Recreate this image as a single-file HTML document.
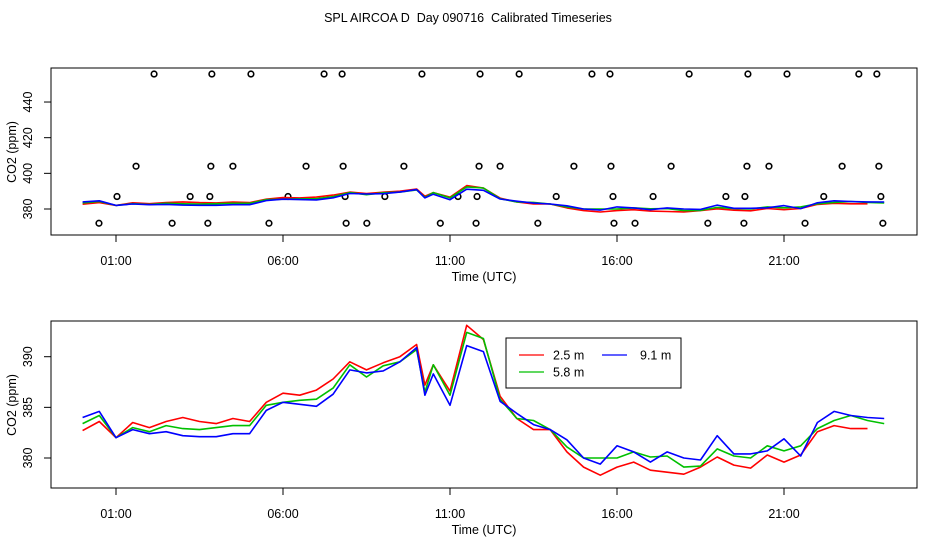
<!DOCTYPE html>
<html><head><meta charset="utf-8"><style>
html,body{margin:0;padding:0;background:#fff;}
svg{display:block;font-family:"Liberation Sans",sans-serif;}
</style></head><body>
<svg id="chart" width="936" height="540" viewBox="0 0 936 540" xmlns="http://www.w3.org/2000/svg">
<text x="468" y="22" font-size="12.5" text-anchor="middle" style="white-space:pre">SPL AIRCOA D  Day 090716  Calibrated Timeseries</text>
</svg>
<script>
const hours = [0,0.5,1,1.5,2,2.5,3,3.5,4,4.5,5,5.5,6,6.5,7,7.5,8,8.5,9,9.5,10,10.25,10.5,11,11.5,12,12.5,13,13.5,14,14.5,15,15.5,16,16.5,17,17.5,18,18.5,19,19.5,20,20.5,21,21.5,22,22.5,23,23.5,24];
const red = [382.7,383.6,382.0,383.5,383.0,383.6,384.0,383.6,383.4,383.9,383.6,385.5,386.4,386.2,386.7,387.8,389.5,388.7,389.4,390.0,391.2,387.2,389.2,386.6,393.1,391.7,386.1,383.9,382.8,382.8,380.6,379.1,378.3,379.1,379.6,378.8,378.6,378.4,379.1,380.1,379.3,379.0,380.3,379.6,380.3,382.6,383.2,382.9,382.9,null];
const green = [383.4,384.2,382.0,383.0,382.6,383.2,382.9,382.8,383.0,383.2,383.2,385.2,385.5,385.7,385.8,386.9,389.2,388.0,389.1,389.5,390.7,386.5,389.2,386.2,392.4,391.8,385.8,383.9,383.7,382.8,381.1,380.0,380.0,380.0,380.6,380.1,380.2,379.1,379.2,380.9,380.2,380.0,381.2,380.7,381.2,382.9,383.7,384.2,383.7,383.4];
const blue = [384.0,384.6,382.0,382.8,382.4,382.6,382.2,382.1,382.1,382.4,382.4,384.7,385.5,385.3,385.1,386.3,388.7,388.4,388.6,389.5,390.9,386.2,388.3,385.2,391.1,390.5,385.6,384.4,383.3,382.8,381.8,380.0,379.4,381.2,380.6,379.6,380.6,380.0,379.8,382.2,380.4,380.4,380.7,381.9,380.2,383.5,384.6,384.2,384.0,383.9];
const outlierHours = [2.14,3.87,5.04,7.23,7.77,10.16,11.90,13.07,15.25,15.79,18.16,19.92,21.09,23.24,23.78,
 1.60,3.84,4.50,6.69,7.80,9.62,11.87,12.50,14.71,15.82,17.62,19.89,20.55,22.74,23.84,
 1.03,3.22,3.81,6.15,7.86,9.05,11.24,11.81,14.18,15.88,17.08,19.26,19.83,22.19,23.90,
 0.49,2.68,3.75,5.58,7.89,8.51,10.71,11.78,13.63,15.91,16.54,18.72,19.80,21.63,23.96];
const outlierValues = [455.7,455.7,455.7,455.7,455.7,455.7,455.7,455.7,455.7,455.7,455.7,455.7,455.7,455.7,455.7,
 404,404,404,404,404,404,404,404,404,404,404,404,404,404,404,
 387,387,387,387,387,387,387,387,387,387,387,387,387,387,387,
 372,372,372,372,372,372,372,372,372,372,372,372,372,372,372];
const xTickHours = [1,6,11,16,21];
const xTickLabels = ["01:00","06:00","11:00","16:00","21:00"];
const topTicks = [380,400,420,440];
const botTicks = [380,385,390];
const seriesNames = ["2.5 m","5.8 m","9.1 m"];

const svg = document.getElementById('chart');
const NS = 'http://www.w3.org/2000/svg';
function mk(tag, attrs, parent){const e=document.createElementNS(NS,tag);for(const k in attrs)e.setAttribute(k,attrs[k]);(parent||svg).appendChild(e);return e;}
const X0=51, X1=917;
function xs(h){return 82.6 + h*33.4;}
function yTop(v){return 209 - (v-380)*1.783;}
function yBot(v){return 458 - (v-380)*10.13;}

function panel(name, top, bottom, yf, ticks, midY){
  const g = mk('g',{});
  
  
  const box = mk('rect',{x:X0,y:top,width:X1-X0,height:bottom-top,fill:'none',stroke:'#000','stroke-width':1},g);
  
  
  xTickHours.forEach((h,i)=>{
    const x=xs(h);
    const t = mk('line',{x1:x,y1:bottom,x2:x,y2:bottom+7,stroke:'#000'},g);
    
    
    const l = mk('text',{x:x,y:bottom+30,'font-size':12.5,'text-anchor':'middle'},g);
    l.textContent = xTickLabels[i];
    
    
  });
  ticks.forEach(v=>{
    const y=yf(v);
    const t = mk('line',{x1:X0-7,y1:y,x2:X0,y2:y,stroke:'#000'},g);
    
    
    const l = mk('text',{x:0,y:0,'font-size':12.5,'text-anchor':'middle',transform:`translate(32,${y}) rotate(-90)`},g);
    l.textContent = v;
    
    
  });
  const xt = mk('text',{x:484,y:bottom+46,'font-size':12.5,'text-anchor':'middle'},g);
  xt.textContent='Time (UTC)';
  
  
  const yt = mk('text',{x:0,y:0,'font-size':12.5,'text-anchor':'middle',transform:`translate(16,${midY}) rotate(-90)`},g);
  yt.textContent='CO2 (ppm)';
  
  
  return g;
}
function line(arr, color, yf, parent, name){
  let d='';
  arr.forEach((v,i)=>{ if(v==null) return; d += (d?'L':'M') + xs(hours[i]).toFixed(1)+','+yf(v).toFixed(1); });
  const p = mk('path',{d:d,fill:'none',stroke:color,'stroke-width':1.6,'stroke-linejoin':'round'},parent);
  
  
}

const gTop = panel('top-panel',68,235,yTop,topTicks,152);
outlierHours.forEach((h,i)=>{
  const c = mk('circle',{cx:xs(h),cy:yTop(outlierValues[i]),r:2.8,fill:'none',stroke:'#000','stroke-width':1.6},gTop);
  
  
});
line(red,'#ff0000',yTop,gTop,'series-2-5m-top');
line(green,'#00c000',yTop,gTop,'series-5-8m-top');
line(blue,'#0000ff',yTop,gTop,'series-9-1m-top');

const gBot = panel('bottom-panel',321,488,yBot,botTicks,405);
line(red,'#ff0000',yBot,gBot,'series-2-5m');
line(green,'#00c000',yBot,gBot,'series-5-8m');
line(blue,'#0000ff',yBot,gBot,'series-9-1m');

const lg = mk('g',{});


mk('rect',{x:506,y:338,width:175,height:50,fill:'#fff',stroke:'#000'},lg);
const legPos = [[519,355,'#ff0000'],[519,372,'#00c000'],[602,355,'#0000ff']];
seriesNames.forEach((n,i)=>{
  const [lx,ly,c]=legPos[i];
  const e = mk('g',{},lg);
  
  
  mk('line',{x1:lx,y1:ly,x2:lx+25,y2:ly,stroke:c,'stroke-width':1.2},e);
  const t = mk('text',{x:lx+(i==2?38:34),y:ly+4.5,'font-size':12.5},e);
  t.textContent = n;
});
</script>
</body></html>
